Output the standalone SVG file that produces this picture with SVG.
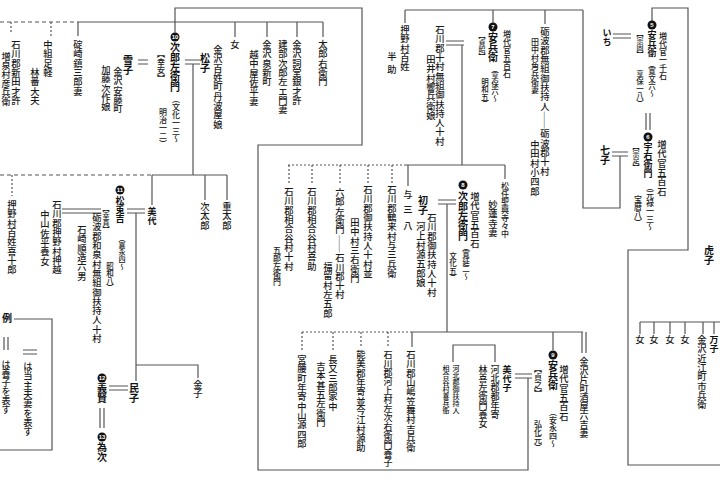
<svg xmlns="http://www.w3.org/2000/svg" width="720" height="480" viewBox="0 0 720 480">
<style>
.t{font-family:"Noto Sans CJK JP","Noto Sans CJK SC",sans-serif;writing-mode:vertical-rl;fill:#1a1a1a;font-size:9.3px;font-weight:500}
.b{font-weight:bold;font-size:10px;fill:#111}
.b9{font-weight:bold;font-size:9px;fill:#111}
.d8{font-size:8px}
.d7{font-size:7.5px}
.s7{font-size:7px}
.ln{stroke:#555;stroke-width:1.2;fill:none}
.dt{stroke-dasharray:2 2}
.ds{stroke-dasharray:4 3}
.mk{fill:#111}
.mn{font-family:"Liberation Sans",sans-serif;font-size:6px;font-weight:bold;fill:#fff;text-anchor:middle}
</style>
<rect width="720" height="480" fill="#fff"/>
<g id="connectors">
<path class="ln" d="M528,378 V470 H258 V145 H362 V8 H175 V32.5"/>
<path class="ln ds" d="M0,22 H78"/>
<path class="ln" d="M78,22 H323 M78,22 V36 M235,22 V37 M267,22 V37 M297,22 V37 M323,22 V37"/>
<path class="ln dt" d="M11,22 V34 M51,22 V36"/>
<path class="ln" d="M138,60 H148 M138,64 H148 M185,60 H200 M185,64 H200 M193,64 V175"/>
<path class="ln ds" d="M0,175 H152"/>
<path class="ln" d="M152,175 H227 M152,175 V205 M205,175 V200 M227,175 V200"/>
<path class="ln dt" d="M12,175 V196"/>
<path class="ln" d="M127,209 H145 M127,213 H145 M136,213 V381 M62,209 H101 M62,213 H101"/>
<path class="ln" d="M136,365 H198 V378 M109,386 H128 M109,390 H128 M100,408 V428 M104,408 V428"/>
<path class="ln" d="M14,319 H52 V450 H0 M4,337 V350 M8,337 V350 M23,350 H37 M23,354 H37"/>
<path class="ln dt" d="M288,165 H405 M289,165 V185 M312,165 V185 M340,165 V185 M368,165 V184 M392,165 V184"/>
<path class="ln" d="M405,165 H505 M408,165 V186 M505,165 V179 M462,45 V165"/>
<path class="ln" d="M446,41 H464 M446,45 H464"/>
<path class="ln" d="M438,200 H456 M438,204 H456 M447,204 V332"/>
<path class="ln dt" d="M302,332 H412 M302,332 V350 M333,332 V352 M361,332 V347 M388,332 V347"/>
<path class="ln" d="M412,332 H583 M412,332 V347 M553,332 V350 M582,332 V353 M586,332 V353"/>
<path class="ln" d="M453,362 V345 H495 V362 M515,374 H532 M515,378 H532"/>
<path class="ln" d="M405,10 H583 M405,10 V23 M493,10 V22.5 M545,10 V24 M583,10 V208 H620 V156"/>
<path class="ln" d="M612,152 H628 M612,156 H628 M613,34 H631 M613,38 H631 M646,113 V130 M650,113 V130"/>
<path class="ln" d="M652,21 V8 H688 V250 H628 V465 H720"/>
<path class="ln" d="M640,322 H720 M640,322 V334 M654,322 V334 M670,322 V334 M685,322 V334 M703,322 V334 M714,322 V334"/>
</g>
<g id="n-zohoizumi"><text class="t" x="16" y="40">石川郡新田才許</text><text class="t" x="6" y="52" style="font-size:9px">増泉村彦兵衛</text></g>
<g id="n-nakagumi"><text class="t" x="48" y="40">中組足軽</text><text class="t" x="35" y="68">林番大夫</text></g>
<g id="n-ikarizaki"><text class="t" x="78" y="40">碇崎鎮三郎妻</text></g>
<g id="n-yukiko"><text class="t b" x="128" y="55">雪子</text><text class="t" x="118" y="67">金沢安藤町</text><text class="t" x="106" y="65">加藤次作娘</text></g>
<g id="n-10"><circle class="mk" cx="175" cy="37" r="4.5"/><text class="mn" x="175" y="39">10</text><text class="t b" x="175" y="42">次郎左衛門</text><text class="t d8" x="176" y="95">（文化一三〜</text><text class="t d8" x="161" y="50">【幸安】</text><text class="t d8" x="163" y="108">明治一二）</text></g>
<g id="n-matsuko"><text class="t b" x="205" y="53">松子</text><text class="t" x="218" y="45">金沢百姓町丹波屋娘</text></g>
<g id="n-onna1"><text class="t" x="235" y="40">女</text></g>
<g id="n-izumishin"><text class="t" x="267" y="40">金沢泉新町</text><text class="t" x="254" y="50">越中屋佐平妻</text></g>
<g id="n-takebe"><text class="t" x="297" y="40">金沢詞堂銀才許</text><text class="t" x="283" y="40">建部次郎左エ門妻</text></g>
<g id="n-taroemon"><text class="t" x="323" y="40">太郎右衛門</text></g>
<g id="n-hansuke"><text class="t" x="405" y="25">押野村百姓</text><text class="t" x="392" y="52" style="letter-spacing:4px">半助</text></g>
<g id="n-tai"><text class="t" x="440" y="25">石川郡十村無組御扶持人十村</text><text class="t" x="431" y="55">田井村響兵衛娘</text></g>
<g id="n-7"><circle class="mk" cx="493" cy="27" r="4.5"/><text class="mn" x="493" y="29">7</text><text class="t b" x="493" y="32">安兵衛</text><text class="t d7" x="495" y="65">（享保六〜</text><text class="t d7" x="485" y="78">明和五）</text><text class="t s7" x="482" y="32">【貞昭】</text><text class="t d8" x="507" y="30">増代官五百石</text></g>
<g id="n-tonami"><text class="t d8" x="535" y="38">田中村角兵衛妻</text><text class="t" x="535" y="140">中田村小四郎</text><text class="t" x="545" y="27">砺波郡無組御扶持人――砺波郡十村</text></g>
<g id="n-ichi"><text class="t b9" x="607" y="28">いち</text></g>
<g id="n-5"><circle class="mk" cx="652" cy="25" r="4.5"/><text class="mn" x="652" y="27">5</text><text class="t b9" x="652" y="30">安兵衛</text><text class="t d7" x="652" y="60">（寛文六〜</text><text class="t d7" x="640" y="70">享保一八）</text><text class="t s7" x="640" y="30">【宗固】</text><text class="t d8" x="663" y="32">増代官一千石</text></g>
<g id="n-6"><circle class="mk" cx="648" cy="137" r="4.5"/><text class="mn" x="648" y="139">6</text><text class="t b9" x="648" y="142">宇右衛門</text><text class="t s7" x="636" y="143">【宗足】</text><text class="t" x="662" y="140">増代官五百石</text><text class="t d8" x="650" y="183">（元禄一三〜</text><text class="t d8" x="638" y="195">宝暦八）</text></g>
<g id="n-nanako"><text class="t b" x="605" y="145">七子</text></g>
<g id="n-torako"><text class="t b" x="709" y="245">虎子</text></g>
<g id="n-onna2"><text class="t" x="640" y="335">女</text></g>
<g id="n-onna3"><text class="t" x="654" y="335">女</text></g>
<g id="n-onna4"><text class="t" x="670" y="335">女</text></g>
<g id="n-onna5"><text class="t" x="685" y="335">女</text></g>
<g id="n-ichibei"><text class="t" x="702" y="335">金沢近江町市兵衛</text></g>
<g id="n-manko"><text class="t b9" x="714" y="335">万子</text></g>
<g id="n-8"><circle class="mk" cx="463" cy="185" r="4.5"/><text class="mn" x="463" y="187">8</text><text class="t b" x="463" y="191">次郎左衛門</text><text class="t d7" x="466" y="243">（寛延二〜</text><text class="t d7" x="453" y="252">文化五）</text><text class="t" x="475" y="192">増代官五百石</text></g>
<g id="n-matto"><text class="t d8" x="505" y="182">松任聖興寺々中</text><text class="t" x="493" y="200">妙蓮寺妻</text></g>
<g id="n-hatsuko"><text class="t b" x="423" y="195">初子</text><text class="t" x="432" y="213">石川郡御扶持人十村</text><text class="t" x="421" y="222">河上村源五郎娘</text></g>
<g id="n-yosohachi"><text class="t" x="408" y="190" style="letter-spacing:6px">与三八</text></g>
<g id="n-tsurugi"><text class="t" x="392" y="185">石川郡鶴来村与三兵衛</text></g>
<g id="n-tanaka"><text class="t" x="368" y="185">石川郡御扶持人十村並</text><text class="t" x="355" y="218">田中村三右衛門</text></g>
<g id="n-rokuro"><text class="t" x="340" y="188">六郎左衛門――石川郡十村</text><text class="t" x="328" y="262">福留村左五郎</text></g>
<g id="n-kisuke"><text class="t" x="312" y="187">石川郡相合谷村喜助</text></g>
<g id="n-gorozaemon"><text class="t" x="289" y="187">石川郡相合谷村十村</text><text class="t d8" x="277" y="246">五郎左衛門</text></g>
<g id="n-kichibei"><text class="t" x="411" y="350">石川郡山嶋笠舞村吉兵衛</text></g>
<g id="n-kawakami"><text class="t" x="388" y="350" style="font-size:9px">石川郡河上村左次右衛門養子</text></g>
<g id="n-imae"><text class="t" x="361" y="350">能美郡年寄並今江村源助</text></g>
<g id="n-yoshimoto"><text class="t" x="333" y="355">長又三郎家中</text><text class="t" x="321" y="362">吉本甚五左衛門</text></g>
<g id="n-miyakoshi"><text class="t" x="302" y="355">宮腰町年寄中山源四郎</text></g>
<g id="n-miyoko"><text class="t b9" x="507" y="365">美代子</text><text class="t" x="495" y="365" style="font-size:9px">河北郡都年寄</text><text class="t" x="483" y="365" style="font-size:9px">林喜左衛門養女</text><text class="t s7" x="456" y="365">河北郡御扶持人</text><text class="t s7" x="446" y="365">相合谷村喜兵衛</text></g>
<g id="n-9"><circle class="mk" cx="553" cy="355" r="4.5"/><text class="mn" x="553" y="357">9</text><text class="t b" x="553" y="360">安兵衛</text><text class="t d8" x="538" y="365">【貞之】</text><text class="t" x="564" y="365">増代官五百石</text><text class="t d8" x="553" y="408">（安永四〜</text><text class="t d8" x="538" y="420">弘化元）</text></g>
<g id="n-katamachi"><text class="t" x="584" y="357" style="font-size:9px">金沢片町酒屋六吉妻</text></g>
<g id="n-kijuro"><text class="t" x="12" y="200">押野村百姓喜十郎</text></g>
<g id="n-miyo"><text class="t b9" x="152" y="207">美代</text></g>
<g id="n-jitaro"><text class="t" x="205" y="202">次太郎</text></g>
<g id="n-jutaro"><text class="t" x="227" y="202">重太郎</text></g>
<g id="n-11"><circle class="mk" cx="120" cy="190" r="4.5"/><text class="mn" x="120" y="192">11</text><text class="t b9" x="120" y="196">松兎吉</text><text class="t s7" x="122" y="235">（嘉永四〜</text><text class="t d7" x="110" y="262">昭和八）</text><text class="t s7" x="106" y="205">【幸貫】</text><text class="t" x="97" y="213">砺波郡和泉村無組御扶持人十村</text><text class="t" x="82" y="225">石崎順造六男</text></g>
<g id="n-nakayama"><text class="t" x="57" y="200">石川郡押野村押越</text><text class="t" x="45" y="210">中山佐平養女</text></g>
<g id="n-12"><circle class="mk" cx="102" cy="378" r="4.5"/><text class="mn" x="102" y="380">12</text><text class="t b" x="102" y="383">義賢</text></g>
<g id="n-tamiko"><text class="t b" x="134" y="383">民子</text></g>
<g id="n-13"><circle class="mk" cx="102" cy="437" r="4.5"/><text class="mn" x="102" y="439">13</text><text class="t b" x="102" y="442">為次</text></g>
<g id="n-kaneko"><text class="t" x="198" y="380">金子</text></g>
<g id="legend"><text class="t b" x="7" y="313">例</text><text class="t" x="6" y="360" style="font-size:9px">は養子を表す</text><text class="t" x="28" y="362">は当主夫妻を表す</text></g>
</svg>
